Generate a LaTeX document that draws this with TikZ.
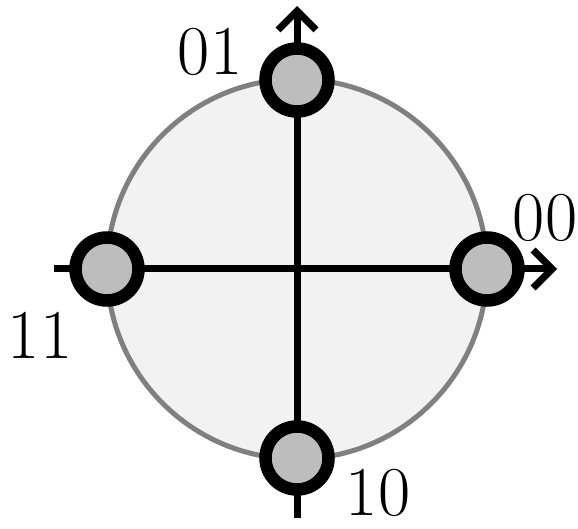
\documentclass[tikz,border=0pt]{standalone}
\usetikzlibrary{arrows.meta}
\definecolor{ringgray}{gray}{0.5}
\definecolor{fillgray}{gray}{0.95}
\definecolor{dotgray}{gray}{0.74}
\begin{document}
\begin{tikzpicture}[x=1pt,y=-1pt,
  axis/.style={line width=7pt,black},
  tip/.style={-{Straight Barb[length=19pt,width=38pt,line width=7pt]}},
  pt/.style={circle,draw=black,line width=12.5pt,fill=dotgray,minimum size=63pt,inner sep=0pt},
  lab/.style={font=\fontsize{70}{70}\selectfont,inner sep=0pt}]
\useasboundingbox (0,0) rectangle (578,529);
\coordinate (c) at (297,269);
\draw[ringgray,line width=5pt,fill=fillgray] (c) circle[radius=190];
\coordinate (l) at (54,269);
\coordinate (r) at (557,269);
\coordinate (t) at (297,6);
\coordinate (b) at (297,518);
\draw[axis,tip] (l) -- (r);
\draw[axis,tip] (b) -- (t);
\node[pt] (p01) at (297,80) {};
\node[pt] (p00) at (487,269) {};
\node[pt] (p10) at (297,458) {};
\node[pt] (p11) at (107,269) {};
\node[lab] (l01) at (210,52) {01};
\node[lab] (l00) at (545,218) {00};
\node[lab] (l11) at (40,335) {11};
\node[lab] (l10) at (378,493) {10};
\end{tikzpicture}
\end{document}
